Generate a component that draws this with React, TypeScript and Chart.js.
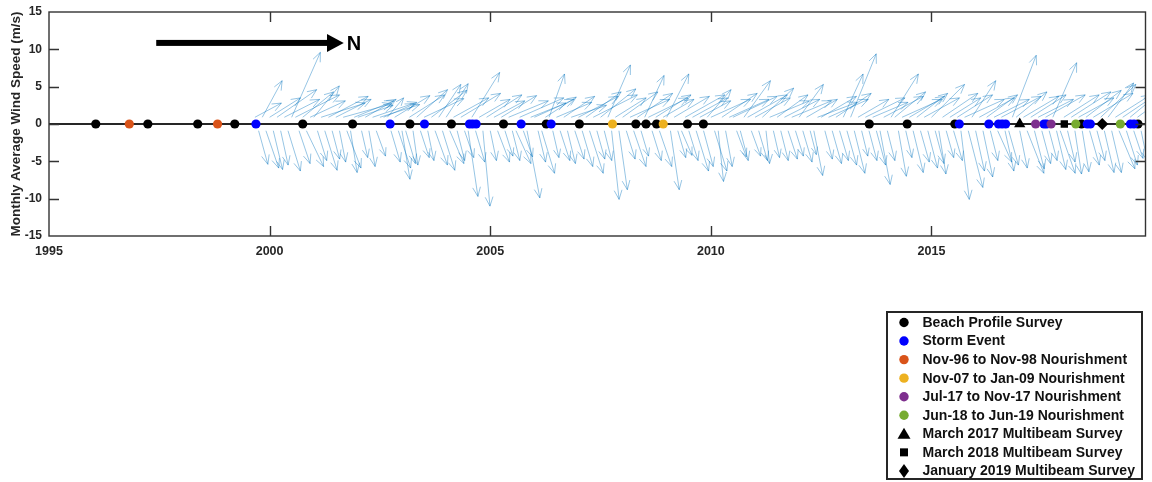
import React, { useEffect, useRef } from 'react';
import { Chart, registerables } from 'chart.js';

Chart.register(...registerables);

const FONT = '"Liberation Sans", Arial, Helvetica, sans-serif';
const INK = '#262626';

// Axes: decimal years across, wind speed (m/s) up
const xTicks = [1995, 2000, 2005, 2010, 2015];
const yTicks = [-15, -10, -5, 0, 5, 10, 15];
const xLimits = [1995, 2019.85];
const yLimits = [-15, 15];

// Monthly average wind, Sep 1999 – Oct 2019.
// windNorth is drawn along the time axis (north = right), windCross vertically.
const windFirstMonth = 1999 + 8 / 12;
const windNorth = [
  6, 2.1, 4.5, 2.9,
  7, 2.1, 9, 1.7, 8, 2.8, 6.5, 10, 2.5, 7, 3.9, 8,
  5.8, 2.1, 10, 2.8, 9, 1.7, 8, 1.4, 11, 3.2, 1.5, 9,
  8, 1.4, 7, 1.4, 10, 2.1, 9, 7, 3.7, 2.1, 8, 2.8,
  1.8, 2.2, 8, 1.1, 7, 2.0, 9, 1.4, 8, 2.8, 5, 2.8,
  5, 3.2, 8, 1.7, 9, 2.1, 2.2, 6.3, 2.1, 7, 1.6, 8,
  1.4, 7, 2.7, 8, 1.8, 9, 1.7, 3.4, 10, 2.1, 2.9, 8,
  9, 1.7, 2.9, 7, 3.5, 1.4, 8, 2.2, 7, 1.8, 8, 2.1,
  9, 2.4, 8, 3.1, 10, 1.8, 8, 1.7, 5.1, 1.7, 7, 1.9,
  8, 2.0, 9, 2.8, 8, 1.7, 4.4, 9, 2.1, 8, 2.8, 7,
  5, 2.0, 8, 1.8, 2.4, 9, 2.1, 8, 2.8, 7, 2.2, 5.4,
  9, 2.8, 1.2, 8, 1.5, 9, 10, 2.2, 1.8, 6, 9, 2.1,
  8, 2.0, 7.1, 0.8, 9, 1.4, 7, 1.7, 8, 2.1, 9, 1.8,
  5.5, 2.1, 7, 1.4, 2.0, 9, 8, 1.7, 9, 2.1, 8, 2.0,
  4.5, 2.2, 5.8, 2.4, 7, 1.4, 9, 1.8, 8, 2.1, 2.3, 9,
  1.7, 6.2, 7, 1.8, 9, 1.4, 8, 2.3, 7, 2.0, 8, 2.2,
  7.5, 2.0, 1.6, 8, 1.7, 7, 2.0, 8, 1.9, 9, 3.3, 5.4,
  2.0, 8, 2.2, 7, 1.7, 8, 3.2, 9, 2.0, 2.2, 5.4, 7,
  1.7, 8, 3.8, 8, 2.2, 8, 2.0, 9, 1.8, 5.4, 2.1, 3.4,
  8, 1.7, 9, 1.5, 8, 1.5, 8, 2.2, 9, 1.8, 8, 2.2,
  5.8, 2.2, 8, 3.6, 7, 2.5, 7, 2.1, 6, 1.4,
];
const windCross = [
  1.9, -4.5, 4.9, -5.0,
  2.6, -5.2, 3.7, -4.6, 2.4, -5.4, 8.7, 3.0, -4.4, 3.4, -4.8, 2.2,
  4.2, -4.0, 1.9, -5.3, 2.8, -3.8, 2.4, -4.2, 1.8, -5.0, -5.6, 2.2,
  1.6, -3.6, 2.4, -4.8, 2.0, -3.4, 1.7, 1.8, 2.6, -4.2, 2.9, -5.0,
  -6.5, -4.4, 3.0, -4.6, 3.7, -3.6, 2.5, -4.0, 3.6, -4.6, 4.4, -5.3,
  4.5, -4.4, 2.6, -4.0, 3.2, -3.6, -8.8, 6.0, -4.2, 2.4, -10.1, 3.0,
  -4.0, 2.2, -4.2, 2.9, -3.4, 2.2, -4.0, -4.4, 2.6, -3.5, -9.0, 1.9,
  2.4, -4.2, -5.7, 2.7, 5.8, -3.6, 2.0, -4.0, 2.8, -4.4, 1.6, -3.8,
  2.8, -4.8, 3.4, -5.7, 3.0, -3.8, 3.8, -4.0, 7.0, -9.2, 2.6, -7.9,
  3.4, -3.8, 2.4, -4.8, 3.2, -3.4, 5.6, 2.6, -4.0, 3.0, -4.8, 2.4,
  5.8, -7.9, 2.8, -3.6, -3.3, 3.0, -4.0, 2.6, -5.4, 2.2, -4.8, 3.7,
  2.4, -5.4, -6.8, 3.2, -4.8, 2.4, 2.8, -3.5, -4.0, 4.9, 3.0, -3.4,
  2.6, -4.0, 3.9, -4.4, 2.2, -3.6, 3.0, -4.0, 2.4, -3.8, 2.2, -3.4,
  4.4, -4.2, 2.4, -3.2, -6.0, 2.0, 2.8, -3.8, 2.4, -4.4, 3.2, -4.0,
  5.8, -4.6, 8.5, -5.7, 2.4, -3.4, 2.6, -4.0, 2.0, -4.6, -7.2, 2.8,
  -4.0, 5.8, 3.4, -6.1, 2.4, -3.6, 2.8, -5.6, 3.2, -4.2, 2.6, -5.0,
  4.4, -4.4, -5.8, 3.2, -3.6, 2.6, -4.0, 3.0, -9.2, 2.4, -7.6, 4.9,
  -5.4, 2.6, -6.2, 3.0, -4.0, 2.4, -4.2, 2.8, -5.4, -4.6, 8.3, 3.4,
  -5.0, 2.8, -5.7, 3.0, -5.1, 2.4, -4.4, 3.0, -4.0, 7.3, -5.2, -5.7,
  3.0, -4.2, 3.4, -5.8, 2.6, -5.5, 3.6, -4.6, 3.2, -4.0, 4.4, -5.6,
  4.6, -5.6, 3.0, -5.1, 2.8, -4.6, 3.4, -3.7, 2.6, -4.0,
];

// Event dates (decimal years), all plotted on the zero line
const beachProfileSurveys = [
  1996.06, 1997.24, 1998.37, 1999.21, 2000.75, 2001.88, 2003.18, 2004.12, 2005.3,
  2006.27, 2007.02, 2008.3, 2008.53, 2008.77, 2009.47, 2009.83, 2013.59, 2014.45,
  2015.53, 2018.4, 2019.68,
];
const stormEvents = [
  1999.69, 2002.73, 2003.51, 2004.53, 2004.6, 2004.68, 2005.7, 2006.38, 2015.63,
  2016.3, 2016.52, 2016.6, 2016.68, 2017.55, 2017.61, 2018.53, 2018.6, 2019.51, 2019.59,
];
const nourishment9698 = [1996.82, 1998.82];
const nourishment0709 = [2007.77, 2008.92];
const nourishment17 = [2017.36, 2017.71];
const nourishment1819 = [2018.27, 2019.28];
const multibeam2017 = [2017.0];
const multibeam2018 = [2018.01];
const multibeam2019 = [2018.87];

// Quiver scaling: years along the time axis per m/s of northward wind,
// and the vertical start of each arrow either side of the zero line.
const QUIVER_X_SCALE = 0.1;
const QUIVER_BASE = 0.9;

// "N" compass arrow, in axis units
const COMPASS = { from: 1997.43, shaftEnd: 2001.3, tip: 2001.68, level: 10.86 };

type Marker = 'circle' | 'triangle' | 'rect' | 'rectRot';

const eventSeries: { label: string; dates: number[]; color: string; marker: Marker }[] = [
  { label: 'Beach Profile Survey', dates: beachProfileSurveys, color: '#000000', marker: 'circle' },
  { label: 'Storm Event', dates: stormEvents, color: '#0000ff', marker: 'circle' },
  { label: 'Nov-96 to Nov-98 Nourishment', dates: nourishment9698, color: '#d95319', marker: 'circle' },
  { label: 'Nov-07 to Jan-09 Nourishment', dates: nourishment0709, color: '#edb120', marker: 'circle' },
  { label: 'Jul-17 to Nov-17 Nourishment', dates: nourishment17, color: '#7e2f8e', marker: 'circle' },
  { label: 'Jun-18 to Jun-19 Nourishment', dates: nourishment1819, color: '#77ac30', marker: 'circle' },
  { label: 'March 2017 Multibeam Survey', dates: multibeam2017, color: '#000000', marker: 'triangle' },
  { label: 'March 2018 Multibeam Survey', dates: multibeam2018, color: '#000000', marker: 'rect' },
  { label: 'January 2019 Multibeam Survey', dates: multibeam2019, color: '#000000', marker: 'rectRot' },
];

const markerRadius: Record<Marker, number> = { circle: 4.6, triangle: 6.5, rect: 5.2, rectRot: 6 };

function drawLegendMarker(ctx: CanvasRenderingContext2D, marker: Marker, x: number, y: number, color: string) {
  ctx.fillStyle = color;
  ctx.beginPath();
  if (marker === 'circle') {
    ctx.arc(x, y, 4.7, 0, Math.PI * 2);
  } else if (marker === 'triangle') {
    ctx.moveTo(x, y - 6);
    ctx.lineTo(x + 6.5, y + 5);
    ctx.lineTo(x - 6.5, y + 5);
    ctx.closePath();
  } else if (marker === 'rect') {
    ctx.rect(x - 4, y - 4, 8, 8);
  } else {
    ctx.moveTo(x, y - 7);
    ctx.lineTo(x + 5, y);
    ctx.lineTo(x, y + 7);
    ctx.lineTo(x - 5, y);
    ctx.closePath();
  }
  ctx.fill();
}

const quiverPlugin = {
  id: 'quiver',
  beforeDatasetsDraw(chart: any) {
    const { ctx, chartArea, scales } = chart;
    const xs = scales.x;
    const ys = scales.y;
    const ds = chart.data.datasets.find((d: any) => d.quiver);
    if (!ds) return;
    ctx.save();
    ctx.beginPath();
    ctx.rect(chartArea.left, chartArea.top, chartArea.right - chartArea.left, chartArea.bottom - chartArea.top);
    ctx.clip();
    ctx.strokeStyle = 'rgba(0, 114, 189, 0.55)';
    ctx.lineWidth = 0.75;
    ds.data.forEach((p: any) => {
      const x1 = xs.getPixelForValue(p.x);
      const y1 = ys.getPixelForValue(p.y);
      const x2 = xs.getPixelForValue(p.x + p.u * QUIVER_X_SCALE);
      const y2 = ys.getPixelForValue(p.y + p.v);
      const ang = Math.atan2(y2 - y1, x2 - x1);
      const len = Math.hypot(x2 - x1, y2 - y1);
      const head = Math.min(10, len * 0.33);
      const spread = 0.4;
      ctx.beginPath();
      ctx.moveTo(x1, y1);
      ctx.lineTo(x2, y2);
      ctx.moveTo(x2 - head * Math.cos(ang - spread), y2 - head * Math.sin(ang - spread));
      ctx.lineTo(x2, y2);
      ctx.lineTo(x2 - head * Math.cos(ang + spread), y2 - head * Math.sin(ang + spread));
      ctx.stroke();
    });
    ctx.restore();
  },
};

const framePlugin = {
  id: 'frame',
  afterDraw(chart: any) {
    const { ctx, chartArea, scales } = chart;
    const xs = scales.x;
    const ys = scales.y;
    const { left, right, top, bottom } = chartArea;
    ctx.save();

    // axes box with inward ticks on all four sides
    ctx.strokeStyle = '#333333';
    ctx.lineWidth = 1.4;
    ctx.strokeRect(left, top, right - left, bottom - top);
    const tick = 10;
    ctx.beginPath();
    xTicks.forEach((v) => {
      const px = Math.round(xs.getPixelForValue(v)) + 0.5;
      if (px <= left + 2 || px >= right - 2) return;
      ctx.moveTo(px, bottom);
      ctx.lineTo(px, bottom - tick);
      ctx.moveTo(px, top);
      ctx.lineTo(px, top + tick);
    });
    yTicks.forEach((v) => {
      const py = Math.round(ys.getPixelForValue(v)) + 0.5;
      if (py <= top + 2 || py >= bottom - 2) return;
      ctx.moveTo(right, py);
      ctx.lineTo(right - tick, py);
      ctx.moveTo(left, py);
      ctx.lineTo(left + tick, py);
    });
    ctx.stroke();

    // compass arrow pointing north
    const cy = ys.getPixelForValue(COMPASS.level);
    const cx0 = xs.getPixelForValue(COMPASS.from);
    const cx1 = xs.getPixelForValue(COMPASS.shaftEnd);
    const cx2 = xs.getPixelForValue(COMPASS.tip);
    ctx.fillStyle = '#000000';
    ctx.fillRect(cx0, cy - 3, cx1 - cx0 + 1, 6);
    ctx.beginPath();
    ctx.moveTo(cx1, cy - 9);
    ctx.lineTo(cx2, cy);
    ctx.lineTo(cx1, cy + 9);
    ctx.closePath();
    ctx.fill();
    ctx.font = `bold 20px ${FONT}`;
    ctx.textAlign = 'left';
    ctx.textBaseline = 'middle';
    ctx.fillText('N', cx2 + 3, cy + 1.5);

    // legend box
    const box = { x: 887, y: 312, w: 255, h: 167 };
    ctx.fillStyle = '#ffffff';
    ctx.fillRect(box.x, box.y, box.w, box.h);
    ctx.strokeStyle = '#262626';
    ctx.lineWidth = 2;
    ctx.strokeRect(box.x, box.y, box.w, box.h);
    ctx.font = `bold 14px ${FONT}`;
    ctx.textBaseline = 'middle';
    eventSeries.forEach((s, i) => {
      const ry = 322.5 + i * 18.55;
      drawLegendMarker(ctx, s.marker, 904, ry, s.color);
      ctx.fillStyle = '#111111';
      ctx.fillText(s.label, 922.5, ry + 0.5);
    });
    ctx.restore();
  },
};

export default function App() {
  const canvasRef = useRef<HTMLCanvasElement | null>(null);

  useEffect(() => {
    const canvas = canvasRef.current;
    if (!canvas) return;

    const quiverData = windNorth.map((u, i) => {
      const v = windCross[i];
      return { x: windFirstMonth + i / 12, y: v >= 0 ? QUIVER_BASE : -QUIVER_BASE, u, v };
    });

    const eventDatasets = eventSeries.map((s, i) => ({
      type: 'scatter' as const,
      label: s.label,
      data: s.dates.map((d) => ({ x: d, y: 0 })),
      pointStyle: s.marker,
      pointRadius: markerRadius[s.marker],
      pointBackgroundColor: s.color,
      pointBorderColor: s.color,
      pointBorderWidth: 0,
      showLine: false,
      order: 20 - i,
    }));

    const chart = new Chart(canvas, {
      type: 'scatter',
      data: {
        datasets: [
          {
            type: 'line',
            label: 'zero',
            data: [
              { x: xLimits[0], y: 0 },
              { x: xLimits[1], y: 0 },
            ],
            borderColor: '#262626',
            borderWidth: 2,
            pointRadius: 0,
            order: 50,
          },
          {
            type: 'scatter',
            label: 'wind',
            quiver: true,
            data: quiverData,
            pointRadius: 0,
            order: 60,
          } as any,
          ...eventDatasets,
        ],
      },
      options: {
        responsive: false,
        animation: false,
        events: [],
        layout: { padding: { top: 12, right: 1, left: 0, bottom: 0 } },
        plugins: { legend: { display: false }, tooltip: { enabled: false } },
        scales: {
          x: {
            type: 'linear',
            min: xLimits[0],
            max: xLimits[1],
            afterBuildTicks: (s: any) => {
              s.ticks = xTicks.map((value) => ({ value }));
            },
            afterFit: (s: any) => {
              s.height = 246;
              s.paddingLeft = 0;
              s.paddingRight = 0;
            },
            grid: { display: false, drawTicks: false, tickLength: 0 },
            border: { display: false },
            ticks: {
              padding: 8,
              maxRotation: 0,
              autoSkip: false,
              color: INK,
              font: { family: FONT, size: 12.5, weight: 'bold' },
              callback: (v: any) => String(v),
            },
          },
          y: {
            type: 'linear',
            min: yLimits[0],
            max: yLimits[1],
            afterBuildTicks: (s: any) => {
              s.ticks = yTicks.map((value) => ({ value }));
            },
            afterFit: (s: any) => {
              s.width = 49;
              s.paddingTop = 0;
              s.paddingBottom = 0;
            },
            grid: { display: false, drawTicks: false, tickLength: 0 },
            border: { display: false },
            ticks: {
              padding: 7,
              color: INK,
              font: { family: FONT, size: 12, weight: 'bold' },
              callback: (v: any) => String(v),
            },
            title: {
              display: true,
              text: 'Monthly Average Wind Speed (m/s)',
              color: INK,
              font: { family: FONT, size: 13.5, weight: 'bold' },
              padding: { top: 8, bottom: 0 },
            },
          },
        },
      },
      plugins: [quiverPlugin, framePlugin],
    } as any);

    return () => chart.destroy();
  }, []);

  return (
    <div style={{ position: 'absolute', left: 0, top: 0, width: 1152, height: 482, background: '#ffffff' }}>
      <canvas ref={canvasRef} width={1152} height={482} />
    </div>
  );
}
